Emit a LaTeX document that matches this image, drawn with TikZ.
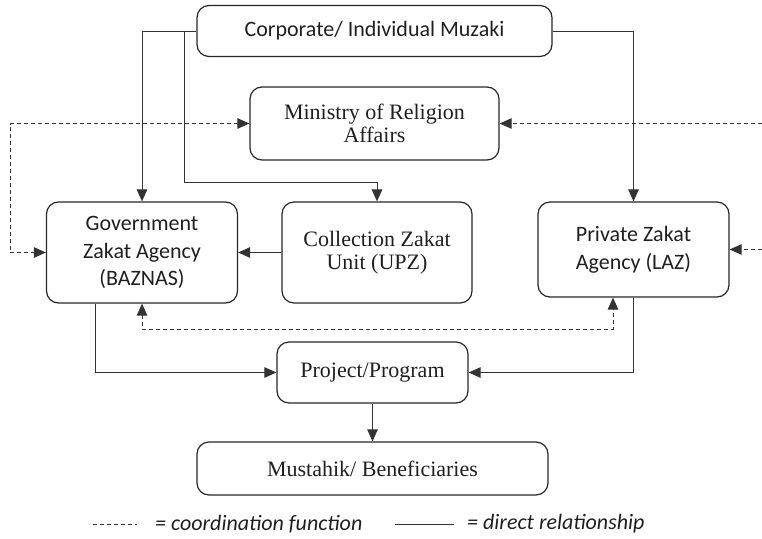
\documentclass[tikz,border=0pt]{standalone}
\usepackage{fontspec}
\setmainfont{Liberation Serif}
\newfontfamily\carlitofam{Carlito}
\usetikzlibrary{arrows.meta,calc}
\begin{document}
\begin{tikzpicture}[x=1pt,y=-1pt,
  box/.style={draw=black!85,line width=1.2pt,rounded corners=12pt,inner sep=0pt,align=center,text=black!88},
  ser/.style={font=\fontsize{22}{23}\selectfont},
  sans/.style={font=\carlitofam\fontsize{22}{27.5}\selectfont},
  conn/.style={draw=black!80,line width=1pt,-{Triangle[length=12pt,width=10.5pt]}},
  coord/.style={conn,dash pattern=on 4pt off 3pt},
  both/.style={coord,{Triangle[length=12pt,width=10.5pt]}-{Triangle[length=12pt,width=10.5pt]}}]
\useasboundingbox (0,0) rectangle (762,538);
\node[box,sans,minimum width=355pt,minimum height=51pt] (muz) at (374.5,31) {Corporate/ Individual Muzaki};
\node[box,ser,minimum width=249pt,minimum height=73pt] (min) at (374.5,123.5) {Ministry of Religion\\Affairs};
\node[box,sans,minimum width=191pt,minimum height=101pt] (gov) at (142,252.5) {Government\\Zakat Agency\\(BAZNAS)};
\node[box,ser,minimum width=190pt,minimum height=101pt] (col) at (377,252.5) {Collection Zakat\\Unit (UPZ)};
\node[box,sans,minimum width=191pt,minimum height=95pt] (pri) at (633.5,249.5) {Private Zakat\\Agency (LAZ)};
\node[box,ser,minimum width=191pt,minimum height=61pt] (pro) at (372.5,372.5) {Project/Program};
\node[box,ser,minimum width=351pt,minimum height=53pt] (mus) at (372.5,468.5) {Mustahik/ Beneficiaries};
% coordinates
\coordinate (j1) at (184,31);
\coordinate (j2) at (184,182);
\coordinate (dl) at (10,252.5);
\coordinate (dr1) at (762,123.5);
\coordinate (dr2) at (762,249.5);
\coordinate (db1) at (142,329);
\coordinate (db2) at (613,329);
\coordinate (gp) at (95,372.5);
\coordinate (pp) at (633.5,372.5);
% direct relationships
\draw[conn] (muz.west) -| (gov.north);
\draw[conn] (j1) -- (j2) -| (col.north);
\draw[conn] (muz.east) -| (pri.north);
\draw[conn] (col.west) -- (gov.east);
\draw[conn] (gp |- gov.south) -- (gp) -- (pro.west);
\draw[conn] (pri.south) -- (pp) -- (pro.east);
\draw[conn] (pro.south) -- (mus.north);
% coordination
\draw[both] (min.west) -| (dl) -- (gov.west);
\draw[coord] (dr1) -- (min.east);
\draw[coord] (dr2) -- (pri.east);
\draw[both] (gov.south) -- (db1) -- (db2) -- (db2 |- pri.south);
% legend
\coordinate (l1) at (93,524);
\coordinate (l2) at (137,524);
\coordinate (l3) at (395,524);
\coordinate (l4) at (454,524);
\draw[draw=black!80,line width=1pt,dash pattern=on 4pt off 3pt] (l1) -- (l2);
\draw[draw=black!80,line width=1pt] (l3) -- (l4);
\node[anchor=west,inner sep=0pt,text=black!88,font=\carlitofam\itshape\fontsize{22}{26}\selectfont] (lt1) at (155,524) {= coordination function};
\node[anchor=west,inner sep=0pt,text=black!88,font=\carlitofam\itshape\fontsize{22}{26}\selectfont] (lt2) at (467,524) {= direct relationship};
\end{tikzpicture}
\end{document}
